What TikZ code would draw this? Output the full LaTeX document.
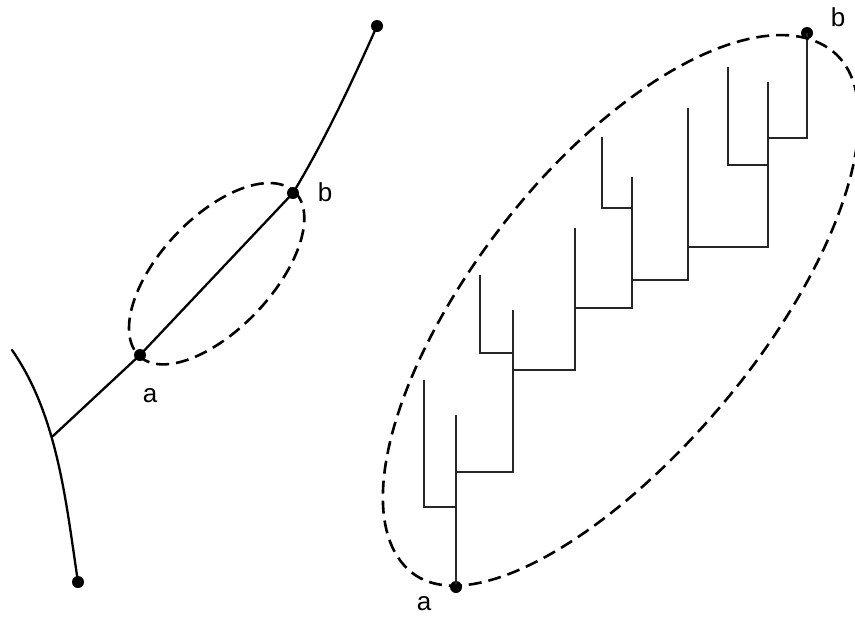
\documentclass[tikz,border=0pt]{standalone}
\usepackage{fontspec}
\setmainfont{Liberation Sans}
\begin{document}
\begin{tikzpicture}[x=1pt,y=-1pt,
  dot/.style={circle,fill=black,inner sep=0pt,minimum size=12pt},
  lbl/.style={font=\fontsize{26}{30}\selectfont,inner sep=0pt},
  curve/.style={line width=2.3pt,line cap=round},
  tree/.style={line width=2.3pt,draw=black!85},
  boundary/.style={line width=2.6pt,dash pattern=on 13pt off 7pt}]
\useasboundingbox (0,0) rectangle (855,619);
% ---------------- left figure ----------------
\node[dot] (top) at (377,26) {};
\node[dot] (lb) at (293,193) {};
\node[dot] (la) at (140,355) {};
\node[dot] (bot) at (78,582) {};
\coordinate (j) at (53,436);
\coordinate (tl) at (12,350);
\node[lbl] (lbt) at (325,192) {b};
\node[lbl] (lat) at (150,396) {a};
\draw[curve] (top.center) .. controls (352,82) and (325,140) .. (lb.center) -- (la.center) -- (j);
\draw[curve] (tl) .. controls (58,416) and (66,503) .. (bot.center);
\begin{scope}[shift={(217,274)},rotate=46.6]
  \draw[boundary] plot[domain=0:360,samples=145]
    ({113*cos(\x)},{(sin(\x)>0 ? 55 : 57)*sin(\x)}) -- cycle;
\end{scope}
% ---------------- right figure ----------------
\node[dot] (ra) at (456,587) {};
\node[dot] (rb) at (807,33) {};
\node[lbl] (rbt) at (838,17) {b};
\node[lbl] (rat) at (424,604) {a};
\coordinate (t1) at (456,415);
\coordinate (t2) at (456,507);
\coordinate (t3) at (424,507);
\coordinate (t4) at (424,380);
\coordinate (t5) at (456,472);
\coordinate (t6) at (513,472);
\coordinate (t7) at (513,310);
\coordinate (t8) at (513,353);
\coordinate (t9) at (480,353);
\coordinate (t10) at (480,275);
\coordinate (t11) at (513,370);
\coordinate (t12) at (575,370);
\coordinate (t13) at (575,228);
\coordinate (t14) at (575,308);
\coordinate (t15) at (632,308);
\coordinate (t16) at (632,177);
\coordinate (t17) at (632,208);
\coordinate (t18) at (602,208);
\coordinate (t19) at (602,137);
\coordinate (t20) at (632,280);
\coordinate (t21) at (688,280);
\coordinate (t22) at (688,108);
\coordinate (t23) at (688,247);
\coordinate (t24) at (768,247);
\coordinate (t25) at (768,82);
\coordinate (t26) at (768,165);
\coordinate (t27) at (728,165);
\coordinate (t28) at (728,67);
\coordinate (t29) at (768,138);
\coordinate (t30) at (807,138);
\draw[tree] (ra.center) -- (t1);
\draw[tree] (t4) -- (t3) -- (t2);
\draw[tree] (t5) -- (t6) -- (t7);
\draw[tree] (t10) -- (t9) -- (t8);
\draw[tree] (t11) -- (t12) -- (t13);
\draw[tree] (t14) -- (t15) -- (t16);
\draw[tree] (t19) -- (t18) -- (t17);
\draw[tree] (t20) -- (t21) -- (t22);
\draw[tree] (t23) -- (t24) -- (t25);
\draw[tree] (t28) -- (t27) -- (t26);
\draw[tree] (t29) -- (t30) -- (rb.center);
\begin{scope}[shift={(628,305)},rotate=51]
  \draw[boundary] plot[domain=0:360,samples=181]
    ({(cos(\x)>0 ? 326 : 344)*cos(\x)},{(sin(\x)>0 ? 136 : 148)*sin(\x)}) -- cycle;
\end{scope}
\end{tikzpicture}
\end{document}
